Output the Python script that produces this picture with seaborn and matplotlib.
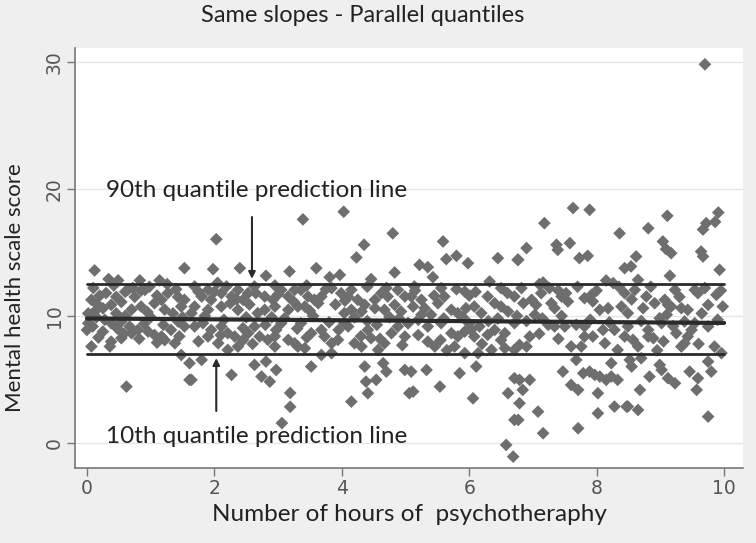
import numpy as np
import pandas as pd
import matplotlib.pyplot as plt
import seaborn as sns

# points, one list per slice of hours
band_a = [(0.12, 13.58), (0.34, 12.9), (0.49, 12.8), (0.83, 12.8), (1.14, 12.8), (1.53, 13.76), (1.26, 12.5),
          (0.30, 11.8), (0.64, 12.05), (0.46, 11.5), (0.07, 11.27), (0.17, 10.87), (0.25, 10.6), (0.38, 10.87),
          (0.54, 11.1), (0.75, 11.5), (0.91, 12.05), (0.98, 12.3), (0.85, 10.74), (1.06, 11.0), (1.17, 11.27),
          (1.27, 11.8), (1.43, 11.5), (1.53, 11.27), (1.48, 10.74), (1.22, 10.5), (0.70, 10.5), (0.02, 10.2),
          (0.12, 10.35), (0.46, 10.2), (0.02, 9.43), (0.0, 8.9), (0.09, 9.17), (0.25, 8.77), (0.38, 9.43),
          (0.54, 9.56), (0.67, 9.17), (0.70, 8.64), (0.80, 8.9), (0.96, 8.77), (1.06, 8.5), (1.17, 8.38),
          (1.22, 8.1), (1.32, 8.9), (1.38, 7.85), (0.38, 7.98), (0.54, 8.25), (0.36, 7.6), (0.07, 7.6),
          (1.43, 9.56), (1.53, 9.17), (0.62, 4.44), (1.61, 4.97), (1.48, 6.93), (1.61, 6.28),
          (0.2, 11.6), (0.6, 11.9), (1.0, 9.9), (0.15, 9.9), (0.85, 12.0), (1.35, 10.2), (0.58, 8.6),
          (0.1, 12.2), (0.42, 12.4), (0.72, 12.2), (1.1, 11.6), (1.4, 12.1), (0.28, 9.7), (0.6, 10.0),
          (0.9, 9.4), (1.2, 9.3), (1.5, 9.9), (0.18, 8.3), (0.48, 9.0), (0.82, 8.2), (1.1, 7.9), (1.45, 8.4),
          (0.95, 10.3)]

band_b = [(2.03, 16.04), (1.98, 13.68), (2.40, 13.76), (2.81, 13.16), (3.18, 13.5),
          (1.69, 12.32), (1.80, 11.53), (1.90, 12.05), (1.95, 11.27), (2.11, 11.79), (2.19, 12.32), (2.27, 11.53),
          (2.37, 12.05), (2.45, 11.27), (2.53, 11.79), (2.63, 12.32), (2.79, 11.53), (2.92, 11.27), (3.05, 12.05),
          (3.16, 11.53), (3.26, 12.05), (3.31, 10.74), (3.16, 10.48), (2.95, 10.74), (2.79, 10.48), (2.68, 10.22),
          (2.37, 10.48), (2.11, 10.74), (1.90, 10.48), (1.69, 10.74), (1.64, 10.22), (1.69, 9.17), (1.82, 9.43),
          (1.95, 8.9), (1.90, 8.38), (2.11, 9.17), (2.21, 8.64), (2.06, 7.85), (2.32, 8.38), (2.45, 9.04),
          (2.53, 8.64), (2.63, 9.17), (2.71, 8.38), (2.84, 8.12), (2.97, 8.9), (3.05, 9.43), (3.16, 8.12),
          (3.26, 7.85), (2.95, 7.59), (2.37, 7.59), (2.21, 7.33), (1.64, 4.97), (2.27, 5.36), (2.63, 6.15),
          (2.81, 6.41), (2.97, 5.75), (2.74, 5.23), (2.87, 4.83), (3.19, 3.94), (3.19, 2.85), (3.06, 1.57),
          (1.80, 6.54), (2.25, 11.0), (2.55, 10.9), (2.0, 11.9), (2.9, 9.9), (2.45, 8.1), (3.0, 11.7),
          (1.75, 11.9), (2.05, 12.6), (2.35, 11.3), (2.65, 11.8), (2.95, 12.4), (3.25, 11.1), (1.85, 10.0),
          (2.15, 9.7), (2.5, 9.9), (2.8, 9.3), (3.1, 9.8), (1.75, 8.0), (2.1, 8.5), (2.6, 7.8), (2.95, 8.4),
          (3.3, 9.0)]

band_c = [(3.39, 17.6), (4.03, 18.2), (4.80, 16.5), (4.35, 15.6), (4.23, 14.6), (3.60, 13.76), (3.81, 13.05),
          (3.97, 13.23), (4.83, 13.42), (4.46, 12.9),
          (3.36, 12.05), (3.47, 11.53), (3.57, 11.27), (3.68, 11.53), (3.84, 12.19), (3.99, 11.79), (4.15, 12.05),
          (4.25, 11.27), (4.36, 10.87), (4.52, 11.27), (4.62, 11.79), (4.72, 11.53), (4.88, 12.05), (4.99, 11.53),
          (3.42, 10.74), (3.63, 11.0), (4.04, 10.22), (4.15, 10.48), (4.31, 10.35), (4.52, 10.61), (4.67, 10.48),
          (4.83, 10.87), (4.93, 10.35), (3.36, 9.43), (3.52, 8.64), (3.68, 8.9), (3.73, 8.38), (3.84, 7.85),
          (3.94, 8.12), (4.04, 9.43), (4.10, 9.17), (4.20, 7.85), (4.31, 7.59), (4.41, 8.9), (4.46, 8.25),
          (4.57, 7.33), (4.67, 7.85), (4.78, 8.64), (4.88, 9.17), (4.99, 8.38), (5.04, 9.43), (3.31, 7.59),
          (3.42, 7.46), (3.68, 6.93), (3.52, 6.02), (3.84, 7.07), (4.36, 6.02), (4.38, 4.83), (4.54, 4.97),
          (4.41, 3.92), (4.15, 3.26), (4.65, 6.28), (4.70, 5.62), (4.99, 5.75), (5.06, 3.92),
          (3.9, 10.9), (4.4, 9.6), (3.55, 10.0), (4.75, 9.9), (4.1, 11.5),
          (3.45, 12.4), (3.75, 12.1), (4.05, 11.2), (4.4, 12.3), (4.7, 12.2), (3.5, 10.4), (3.8, 9.5),
          (4.2, 9.9), (4.55, 9.3), (4.9, 9.8), (3.45, 8.3), (3.95, 8.9), (4.3, 8.4), (4.6, 8.2), (4.95, 7.7)]

band_d = [(5.59, 15.86), (5.64, 14.47), (5.80, 14.73), (5.98, 14.15), (5.22, 14.02), (5.35, 13.84),
          (5.43, 13.05), (6.45, 14.55), (6.76, 14.42), (6.32, 12.71), (5.56, 12.19), (5.93, 11.92),
          (6.50, 12.19), (5.14, 12.32),
          (5.09, 11.53), (5.25, 11.27), (5.51, 11.0), (5.61, 11.53), (5.72, 10.48), (5.82, 10.22), (5.95, 10.61),
          (6.08, 10.74), (6.19, 10.22), (6.29, 11.53), (6.40, 11.0), (6.50, 10.74), (6.61, 10.35), (6.71, 11.53),
          (5.12, 10.74), (5.30, 10.61), (5.04, 9.43), (5.20, 9.69), (5.35, 9.17), (5.56, 9.43), (5.72, 8.64),
          (5.82, 8.38), (5.93, 8.77), (6.03, 8.9), (6.08, 8.38), (6.16, 9.17), (6.29, 8.51), (6.40, 8.9),
          (6.56, 8.64), (6.71, 9.43), (5.35, 7.98), (5.46, 7.59), (5.77, 7.59), (5.93, 7.07), (6.14, 7.07),
          (6.35, 7.33), (6.56, 7.46), (6.71, 7.33), (5.09, 5.62), (5.33, 5.75), (5.12, 4.05), (5.54, 4.44),
          (5.85, 5.49), (6.11, 6.02), (6.06, 3.52), (6.61, 3.92), (6.71, 5.1), (6.71, 1.82), (6.58, -0.15),
          (6.69, -1.07), (6.79, 3.13), (5.9, 9.9), (6.3, 9.6), (5.4, 10.1), (6.0, 11.6),
          (5.15, 12.0), (5.45, 11.6), (5.8, 12.1), (6.1, 11.9), (6.6, 11.8), (5.25, 10.1), (5.6, 9.8),
          (6.0, 9.4), (6.45, 9.8), (6.75, 10.0), (5.2, 8.5), (5.55, 8.1), (6.2, 7.8), (6.5, 8.1), (5.65, 7.3)]

band_e = [(7.63, 18.49), (7.89, 18.35), (7.18, 17.3), (8.36, 16.5), (6.90, 15.34), (6.77, 14.42), (7.37, 15.6),
          (7.39, 15.2), (7.58, 15.73), (7.73, 14.55), (7.86, 14.73), (8.44, 13.76), (8.15, 12.79), (8.26, 12.58),
          (7.16, 12.63),
          (6.82, 12.19), (6.98, 11.27), (7.05, 10.87), (7.13, 11.79), (7.26, 12.19), (7.29, 11.0), (7.34, 10.61),
          (7.45, 11.53), (7.52, 11.79), (7.55, 11.14), (7.81, 11.4), (7.92, 11.66), (7.94, 11.14), (8.05, 10.48),
          (8.18, 10.61), (8.39, 10.74), (8.44, 11.79), (8.49, 10.22), (7.03, 10.09), (7.24, 9.3), (7.34, 9.17),
          (7.50, 9.17), (7.68, 9.3), (7.81, 9.17), (7.81, 8.38), (7.76, 7.59), (7.94, 8.38), (8.13, 7.85),
          (8.28, 8.9), (8.33, 7.33), (8.44, 8.38), (8.49, 9.17), (6.95, 8.38), (6.90, 7.59), (6.79, 7.72),
          (7.68, 6.54), (7.47, 5.62), (7.60, 4.57), (7.71, 4.18), (7.79, 5.49), (7.89, 5.62), (7.97, 5.36),
          (8.05, 5.23), (8.15, 4.97), (8.23, 5.23), (8.33, 4.97), (8.23, 6.28), (8.02, 3.92), (6.79, 4.97),
          (6.95, 4.97), (6.84, 4.18), (7.08, 2.47), (7.16, 0.77), (7.71, 1.16), (8.02, 2.34), (8.28, 2.87),
          (8.47, 2.87), (6.77, 1.82),
          (6.85, 11.0), (7.1, 12.5), (7.4, 12.0), (7.7, 12.3), (8.0, 12.0), (8.35, 12.3), (6.9, 9.6),
          (7.15, 9.8), (7.45, 10.0), (7.9, 9.7), (8.2, 9.5), (7.1, 8.6), (7.4, 8.2), (7.6, 7.6), (8.1, 8.9)]

band_f = [(9.70, 29.8), (9.91, 18.14), (9.72, 17.3), (9.86, 17.4), (9.67, 16.8), (9.11, 17.88), (8.81, 16.9),
          (9.04, 15.86), (9.09, 15.26), (9.17, 14.94), (9.64, 15.07), (9.67, 14.68), (8.62, 14.68), (8.54, 13.9),
          (9.93, 13.63), (9.15, 13.16), (8.65, 12.84),
          (8.60, 12.05), (8.78, 11.53), (8.91, 11.0), (9.07, 11.27), (9.23, 12.05), (9.33, 10.61), (9.43, 10.48),
          (9.54, 12.05), (9.59, 11.79), (9.75, 10.87), (9.88, 11.66), (9.98, 10.74), (8.73, 10.61), (9.12, 10.87),
          (9.17, 10.74), (8.57, 8.12), (8.81, 8.38), (8.89, 8.25), (8.99, 9.82), (9.02, 9.43), (9.25, 8.64),
          (9.33, 7.59), (9.38, 7.85), (9.43, 8.38), (9.49, 8.9), (9.54, 9.43), (9.38, 9.56), (9.75, 9.17),
          (9.85, 7.59), (9.96, 7.07), (8.81, 8.9), (8.52, 6.54), (8.55, 6.02), (8.70, 6.67), (8.99, 6.15),
          (9.02, 5.75), (8.83, 5.23), (9.12, 5.1), (9.23, 4.7), (9.46, 5.62), (9.59, 5.1), (9.57, 4.18),
          (9.75, 6.41), (9.80, 5.62), (8.68, 4.18), (8.65, 2.6), (9.75, 2.08), (8.49, 2.87),
          (8.55, 11.3), (8.85, 12.3), (9.3, 11.5), (9.7, 12.2), (9.95, 12.0), (8.7, 9.6), (9.1, 10.1),
          (9.65, 10.2), (9.9, 9.7), (8.65, 7.6), (9.05, 8.0), (9.6, 7.8), (9.2, 9.2), (8.95, 7.3)]

# quantile regression lines (10th, 50th, 90th)
line_x = [0.0, 10.0]
q10 = [7.0, 7.0]
q50 = [9.8, 9.45]
q90 = [12.55, 12.55]

pts = np.array(band_a + band_b + band_c + band_d + band_e + band_f)
df = pd.DataFrame({'hours': pts[:, 0], 'score': pts[:, 1]})

sns.set_style('white')
plt.rcParams['font.family'] = ['Lato', 'DejaVu Sans']

fig = plt.figure(figsize=(7.56, 5.43), dpi=100, facecolor='#efefef')
ax = fig.add_axes([0.099, 0.138, 0.884, 0.774])
ax.set_facecolor('white')

for yv in [0, 10, 20, 30]:
    ax.axhline(yv, color='#e6e6e6', lw=1, zorder=0)

sns.scatterplot(data=df, x='hours', y='score', marker='D', s=42, color='#6e6e6e',
                edgecolor='none', linewidth=0, ax=ax, zorder=2)

ax.plot(line_x, q90, color='#2a2a2a', lw=2, zorder=3)
ax.plot(line_x, q50, color='#2a2a2a', lw=3, zorder=3)
ax.plot(line_x, q10, color='#2a2a2a', lw=2, zorder=3)

ax.annotate('', xy=(2.59, 12.7), xytext=(2.59, 18.0),
            arrowprops=dict(arrowstyle='-|>', color='#2a2a2a', lw=1.5, mutation_scale=10), zorder=4)
ax.annotate('', xy=(2.03, 6.9), xytext=(2.03, 2.3),
            arrowprops=dict(arrowstyle='-|>', color='#2a2a2a', lw=1.5, mutation_scale=10), zorder=4)
ax.text(0.3, 19.9, '90th quantile prediction line', fontsize=17.5, color='#222222', va='center', zorder=4)
ax.text(0.3, 0.5, '10th quantile prediction line', fontsize=17.5, color='#222222', va='center', zorder=4)

ax.set_xlim(-0.19, 10.3)
ax.set_ylim(-1.97, 31.1)
ax.set_xticks([0, 2, 4, 6, 8, 10])
ax.set_yticks([0, 10, 20, 30])
tick_font = ['Liberation Sans Narrow', 'DejaVu Sans']
ax.set_xticklabels(['0', '2', '4', '6', '8', '10'], family=tick_font, fontsize=13.5, color='#555555')
ax.set_yticklabels(['0', '10', '20', '30'], family=tick_font, fontsize=13.5, color='#555555',
                   rotation=90, va='center')
ax.tick_params(axis='both', direction='out', length=6, width=1, color='#777777', pad=2,
               bottom=True, left=True)

for side in ['top', 'right']:
    ax.spines[side].set_visible(False)
for side in ['left', 'bottom']:
    ax.spines[side].set_color('#777777')
    ax.spines[side].set_linewidth(1.2)

ax.set_xlabel('Number of hours of  psychotheraphy', fontsize=17.5, color='#222222', labelpad=4)
ax.set_ylabel('Mental health scale score', fontsize=16, color='#222222')
ax.yaxis.set_label_coords(-0.075, 0.43)
fig.suptitle('Same slopes - Parallel quantiles', fontsize=17, color='#222222', x=0.48, y=0.99)

fig.savefig('out.png', dpi=100, facecolor=fig.get_facecolor())
